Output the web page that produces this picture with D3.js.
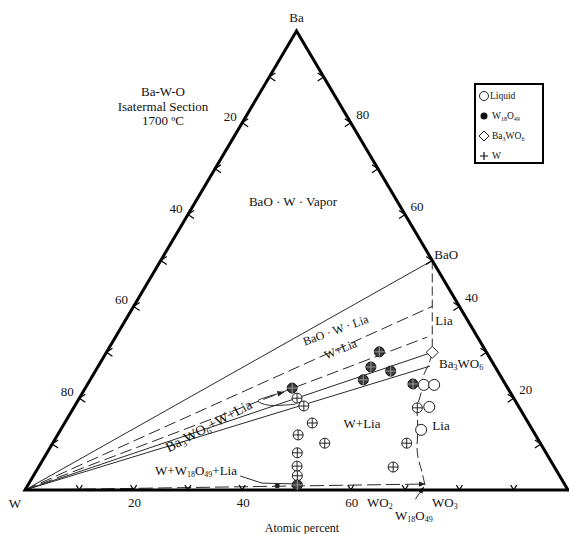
<!DOCTYPE html>
<html><head><meta charset="utf-8">
<script src="https://cdn.jsdelivr.net/npm/d3@7"></script>
<style>
html,body{margin:0;padding:0;background:#fff;}
svg{display:block;}
svg text{font-family:"Liberation Serif","DejaVu Serif","Times New Roman",serif;}
</style></head><body>
<svg id="chart" width="569" height="534" font-family="Liberation Serif, DejaVu Serif, serif"></svg>
<script>
// Ba–W–O isothermal section at 1700 °C.
// Every composition is atomic percent written as [O, Ba]; W is the remainder.

const cornerLabels = ["Ba", "W"];
const leftTickLabels = ["20", "40", "60", "80"];   // W %, W–Ba side (from the top)
const rightTickLabels = ["80", "60", "40", "20"];  // Ba %, Ba–O side (from the top)
const bottomTickLabels = ["20", "40", "60"];       // O %, W–O side
const tickSteps = [10, 20, 30, 40, 50, 60, 70, 80, 90];

const titleLines = ["Ba-W-O", "Isatermal Section", "1700 ºC"];
const legendItems = ["Liquid", "W_{18}O_{49}", "Ba_{3}WO_{6}", "W"];

// tie lines drawn from the W corner
const solidTieEnds = [[50, 50], [60, 30], [61.1, 27.0]];
const dashedTieEnds = [[55, 40], [57.4, 33.3]];
const lowTieEnd = [73.0, 1.3];
// BaO – Ba3WO6 join
const baoJoin = [[50, 50], [60, 30]];
// liquid boundary, Ba3WO6 down towards W18O49
const liquidus = [[60, 30], [60.6, 27.7], [61.0, 24.6], [62.3, 21.4], [63.2, 18.1],
                  [65.6, 13.5], [68.2, 8.1], [71.3, 3.7], [73.1, 1.1]];
// pointer curves
const loopPointer = [[40.5, 18.7], [35.5, 18.5], [33.2, 19.4], [34.5, 20.3], [37.0, 21.3]];
const lowLeader = [[38.1, 3.05], [42.9, 1.5], [50.0, 1.3]];
const w18o49Arrow = [[72.9, -2.0], [73.1, 0.6]];

// experimental points
const liquidPts = [[62.0, 22.9], [63.9, 22.9], [65.4, 18.1], [66.4, 13.1]];
const w18o49Pts = [[50.2, 30.1], [50.3, 26.8], [54.4, 25.9], [50.3, 24.0], [38.1, 22.2],
                   [59.9, 23.1], [49.6, 1.1]];
const w18o49Small = [[46.0, 0.9]];
const wLiqPts = [[40.1, 20.0], [42.2, 18.3], [45.6, 14.6], [44.3, 12.0], [50.1, 10.2],
                 [46.1, 8.1], [47.5, 5.2], [48.6, 3.1], [63.3, 17.9], [65.2, 10.2], [65.3, 5.0]];
const ba3wo6Pts = [[60, 30]];
const baoPoint = [50, 50];

const svg = d3.select("#chart");
const x = d3.scaleLinear().domain([0, 100]).range([25, 568]);
const y = d3.scaleLinear().domain([0, 100]).range([490, 31]);
const P = d => [x(d[0] + d[1] / 2), y(d[1])];
const W = [0, 0], O = [100, 0], Ba = [0, 100];
const line = d3.line().x(d => P(d)[0]).y(d => P(d)[1]);
const curve = d3.line().x(d => P(d)[0]).y(d => P(d)[1]).curve(d3.curveCatmullRom);

// text with _{...} subscripts
function rich(sel, str, subSize) {
  const parts = str.split(/(_\{[^}]*\})/).filter(s => s.length);
  parts.forEach(p => {
    if (p.startsWith("_{")) {
      sel.append("tspan").attr("baseline-shift", "-30%").attr("font-size", subSize)
        .text(p.slice(2, -1));
    } else sel.append("tspan").text(p);
  });
  return sel;
}

const defs = svg.append("defs");
defs.append("marker").attr("id", "arr").attr("viewBox", "0 0 10 10")
  .attr("refX", 9).attr("refY", 5).attr("markerWidth", 7).attr("markerHeight", 7)
  .attr("orient", "auto").append("path").attr("d", "M0,1 L10,5 L0,9 Z").attr("fill", "#222");

const g = svg.append("g");
const thin = "#2a2a2a";

// tie lines
g.selectAll(".st").data(solidTieEnds).join("path")
  .attr("d", d => line([W, d])).attr("fill", "none").attr("stroke", thin).attr("stroke-width", 1);
g.selectAll(".dt").data(dashedTieEnds).join("path")
  .attr("d", d => line([W, d])).attr("fill", "none").attr("stroke", thin).attr("stroke-width", 1)
  .attr("stroke-dasharray", "12,5");
g.append("path").attr("d", line([W, lowTieEnd])).attr("fill", "none").attr("stroke", thin)
  .attr("stroke-width", 1).attr("stroke-dasharray", "14,5").attr("marker-end", "url(#arr)");
g.append("path").attr("d", line(baoJoin)).attr("fill", "none").attr("stroke", thin)
  .attr("stroke-width", 1).attr("stroke-dasharray", "9,4");
g.append("path").attr("d", curve(liquidus)).attr("fill", "none")
  .attr("stroke", thin).attr("stroke-width", 1).attr("stroke-dasharray", "10,4");
g.append("path").attr("d", curve(loopPointer))
  .attr("fill", "none").attr("stroke", thin).attr("stroke-width", 1).attr("marker-end", "url(#arr)");
g.append("path").attr("d", line(lowLeader)).attr("fill", "none").attr("stroke", thin).attr("stroke-width", 1);
g.append("path").attr("d", line(w18o49Arrow)).attr("fill", "none").attr("stroke", thin)
  .attr("stroke-width", 1).attr("marker-end", "url(#arr)");

// triangle frame
g.append("path").attr("d", line([W, Ba, O]) + "Z").attr("fill", "none")
  .attr("stroke", "#000").attr("stroke-width", 3).attr("stroke-linejoin", "miter");

// chevron ticks on each side
const ticks = g.append("g").attr("stroke", "#000").attr("stroke-width", 1.2).attr("fill", "none");
tickSteps.forEach(s => {
  const [lx, ly] = P([0, s]);
  ticks.append("path").attr("d", `M${lx + 6},${ly - 4} L${lx},${ly} L${lx + 6},${ly + 4}`);
  const [rx, ry] = P([100 - s, s]);
  ticks.append("path").attr("d", `M${rx - 6},${ry - 4} L${rx},${ry} L${rx - 6},${ry + 4}`);
  const [bx, by] = P([s, 0]);
  ticks.append("path").attr("d", `M${bx - 3},${by - 5} L${bx},${by} L${bx + 3},${by - 5}`);
});

const txt = svg.append("g").attr("fill", "#111").attr("font-size", 13)
  .attr("font-family", "Liberation Serif, DejaVu Serif, serif");
leftTickLabels.forEach((t, i) => {
  const [px, py] = P([0, 80 - 20 * i]);
  txt.append("text").attr("x", px - 12).attr("y", py - 2).attr("text-anchor", "middle").text(t);
});
rightTickLabels.forEach((t, i) => {
  const b = 80 - 20 * i;
  const [px, py] = P([100 - b, b]);
  txt.append("text").attr("x", px + 12).attr("y", py - 4).attr("text-anchor", "middle").text(t);
});
bottomTickLabels.forEach(t => {
  const [px, py] = P([+t, 0]);
  txt.append("text").attr("x", px + 1).attr("y", py + 17).attr("text-anchor", "middle").text(t);
});

// corner labels
const [bax, bay] = P(Ba);
txt.append("text").attr("x", bax).attr("y", bay - 9).attr("text-anchor", "middle").text(cornerLabels[0]);
const [wx, wy] = P(W);
txt.append("text").attr("x", wx - 10).attr("y", wy + 18).attr("text-anchor", "middle").text(cornerLabels[1]);

// title
titleLines.forEach((t, i) => {
  txt.append("text").attr("x", 163).attr("y", 96 + i * 14.5).attr("text-anchor", "middle").text(t);
});

// region and phase labels
const lab = (xx, yy, s, opts = {}) => {
  const t = txt.append("text").attr("x", xx).attr("y", yy).attr("text-anchor", opts.anchor || "middle");
  if (opts.size) t.attr("font-size", opts.size);
  if (opts.rot) t.attr("transform", `rotate(${opts.rot},${xx},${yy})`);
  rich(t, s, opts.sub || 8);
  return t;
};
lab(293, 206, "BaO · W · Vapor");
lab(337, 334, "BaO · W · Lia", { rot: -20, size: 12 });
lab(342, 353, "W+Lia", { rot: -22, size: 12 });
lab(444, 325, "Lia");
lab(439, 368, "Ba_{3}WO_{6}", { anchor: "start" });
lab(362, 428, "W+Lia");
lab(441, 430, "Lia");
lab(211, 430, "Ba_{3}WO_{6}+W+Lia", { rot: -28, size: 14, sub: 9 });
lab(196, 475, "W+W_{18}O_{49}+Lia");
lab(367, 507, "WO_{2}", { anchor: "start" });
lab(432, 507, "WO_{3}", { anchor: "start" });
lab(395, 520, "W_{18}O_{49}", { anchor: "start" });
lab(302, 532, "Atomic percent", { size: 12 });
const [bpx, bpy] = P(baoPoint);
lab(bpx + 2, bpy - 2, "BaO", { anchor: "start" });

// data markers
const mk = svg.append("g");
const plus = (sel, r, col) => {
  sel.append("path").attr("d", d => {
    const [cx, cy] = P(d);
    return `M${cx - r},${cy} H${cx + r} M${cx},${cy - r} V${cy + r}`;
  }).attr("stroke", col).attr("stroke-width", 1);
};
const wl = mk.selectAll(".wl").data(wLiqPts).join("g");
wl.append("circle").attr("cx", d => P(d)[0]).attr("cy", d => P(d)[1]).attr("r", 5)
  .attr("fill", "#fff").attr("stroke", "#222").attr("stroke-width", 1);
plus(wl, 5, "#222");
const wo = mk.selectAll(".wo").data(w18o49Pts).join("g");
wo.append("circle").attr("cx", d => P(d)[0]).attr("cy", d => P(d)[1]).attr("r", 5)
  .attr("fill", "#3a3a3a").attr("stroke", "#111").attr("stroke-width", 1);
plus(wo, 5, "#9a9a9a");
mk.selectAll(".ws").data(w18o49Small).join("circle")
  .attr("cx", d => P(d)[0]).attr("cy", d => P(d)[1]).attr("r", 2.5).attr("fill", "#222");
mk.selectAll(".lq").data(liquidPts).join("circle")
  .attr("cx", d => P(d)[0]).attr("cy", d => P(d)[1]).attr("r", 5.5)
  .attr("fill", "#fff").attr("stroke", "#222").attr("stroke-width", 1);
mk.selectAll(".dm").data(ba3wo6Pts).join("path")
  .attr("d", d => { const [cx, cy] = P(d); return `M${cx},${cy - 6} L${cx + 6},${cy} L${cx},${cy + 6} L${cx - 6},${cy} Z`; })
  .attr("fill", "#fff").attr("stroke", "#222").attr("stroke-width", 1);

// legend
const lg = svg.append("g").attr("transform", "translate(475,84)")
  .attr("font-family", "Liberation Serif, DejaVu Serif, serif");
lg.append("rect").attr("width", 68).attr("height", 79).attr("fill", "#fff")
  .attr("stroke", "#000").attr("stroke-width", 2);
const ly = i => 12 + i * 20;
lg.append("circle").attr("cx", 9).attr("cy", ly(0)).attr("r", 4.5).attr("fill", "none").attr("stroke", "#222");
lg.append("circle").attr("cx", 9).attr("cy", ly(1)).attr("r", 3.5).attr("fill", "#111");
lg.append("path").attr("d", `M9,${ly(2) - 5} L14,${ly(2)} L9,${ly(2) + 5} L4,${ly(2)} Z`)
  .attr("fill", "none").attr("stroke", "#222");
lg.append("path").attr("d", `M5,${ly(3)} H13 M9,${ly(3) - 4} V${ly(3) + 4}`).attr("stroke", "#111").attr("stroke-width", 1.2);
legendItems.forEach((t, i) => {
  const tt = lg.append("text").attr("x", i === 0 ? 15 : 17).attr("y", ly(i) + 3)
    .attr("font-size", 9.5).attr("fill", "#111");
  rich(tt, t, 6);
});
</script>
</body></html>
